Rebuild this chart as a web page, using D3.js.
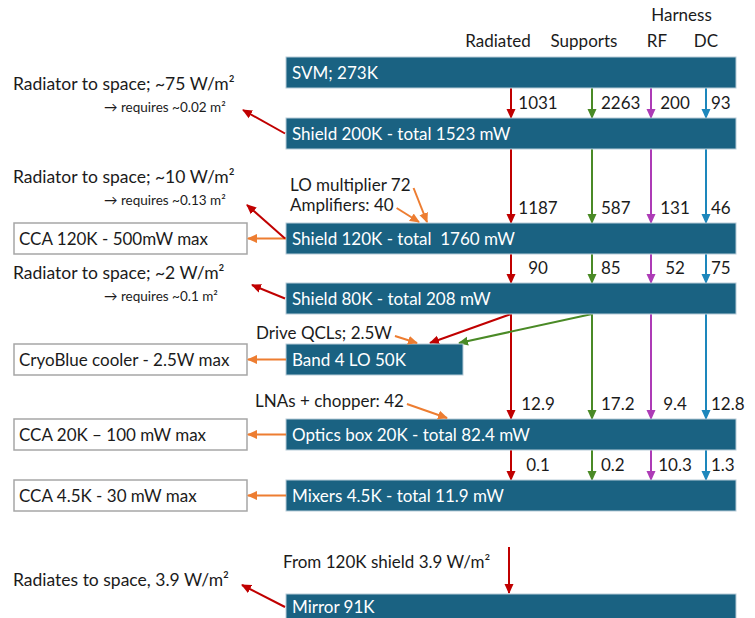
<!DOCTYPE html>
<html>
<head>
<meta charset="utf-8">
<script src="https://cdn.jsdelivr.net/npm/d3@7/dist/d3.min.js"></script>
<style>
body { margin: 0; background: #fff; }
svg { display: block; }
text { font-family: Lato, 'Open Sans', sans-serif; fill: #1b1b1b; }
</style>
</head>
<body>
<svg width="755" height="618"></svg>
<script>

// stages of the thermal stack, top to bottom
var stages = ["SVM; 273K", "Shield 200K - total 1523 mW", "Shield 120K - total  1760 mW", "Shield 80K - total 208 mW",
  "Band 4 LO 50K", "Optics box 20K - total 82.4 mW", "Mixers 4.5K - total 11.9 mW", "Mirror 91K"];
var paths = ["Radiated", "Supports", "RF", "DC"];

// heat flow (mW) going down from stage flowFrom[i] to stage flowTo[i]
var flowFrom = [0, 1, 2, 3, 5];
var flowTo = [1, 2, 3, 5, 6];
var radiated = [1031, 1187, 90, 12.9, 0.1];
var supports = [2263, 587, 85, 17.2, 0.2];
var harnessRF = [200, 131, 52, 9.4, 10.3];
var harnessDC = [93, 46, 75, 12.8, 1.3];

var coolers = ["CCA 120K - 500mW max", "CryoBlue cooler - 2.5W max", "CCA 20K \u2013 100 mW max", "CCA 4.5K - 30 mW max"];
var coolerStage = [2, 4, 5, 6];

var radiators = ["Radiator to space; ~75 W/m\u00b2", "Radiator to space; ~10 W/m\u00b2", "Radiator to space; ~2 W/m\u00b2", "Radiates to space, 3.9 W/m\u00b2"];
var radiatorArea = ["\u2192 requires ~0.02 m\u00b2", "\u2192 requires ~0.13 m\u00b2", "\u2192 requires ~0.1 m\u00b2", ""];
var radiatorStage = [1, 2, 3, 7];

var loads = ["LO multiplier 72", "Amplifiers: 40", "Drive QCLs; 2.5W", "LNAs + chopper: 42"];
var loadStage = [2, 2, 4, 5];

var mirrorNote = "From 120K shield 3.9 W/m\u00b2";

// ---- layout ----
var svg = d3.select("svg");
var barH = 31, barX = 286, fs = 17;

var y = d3.scaleOrdinal().domain(stages).range([57, 118, 223, 283, 344, 419, 480, 594]);
var barRight = d3.scaleOrdinal().domain(stages).range([736, 736, 736, 736, 463, 736, 736, 736]);
var x = d3.scaleOrdinal().domain(paths).range([511, 592, 651, 706]);
var color = d3.scaleOrdinal().domain(paths).range(["#c00000", "#4a8a26", "#ad3bb6", "#1d87bc"]);
var orange = "#ed7d31";
var series = { Radiated: radiated, Supports: supports, RF: harnessRF, DC: harnessDC };
// label placement next to each arrow column
var labelDx = d3.scaleOrdinal().domain(paths).range([27, 9, 24, 5]);
var labelAnchor = d3.scaleOrdinal().domain(paths).range(["middle", "start", "middle", "start"]);
var headerDx = d3.scaleOrdinal().domain(paths).range([-13, -8, 6, 0]);

// last bar runs off the bottom of the page
var hOf = function (s) { return Math.min(barH, 620 - y(s)); };
var mid = function (i) { return y(stages[i]) + hOf(stages[i]) / 2; };

// arrow heads
var defs = svg.append("defs");
function marker(id, c) {
  defs.append("marker").attr("id", id)
    .attr("markerUnits", "userSpaceOnUse")
    .attr("viewBox", "0 0 10 10")
    .attr("markerWidth", 10).attr("markerHeight", 10)
    .attr("refX", 9).attr("refY", 5).attr("orient", "auto")
    .append("path").attr("d", "M0,0.5 L10,5 L0,9.5 Z").attr("fill", c);
}
paths.forEach(function (p) { marker("m-" + p, color(p)); });
marker("m-orange", orange);

// column headers
svg.append("g").selectAll("text").data(paths).enter().append("text")
  .attr("x", function (p) { return x(p) + headerDx(p); })
  .attr("y", 47).attr("text-anchor", "middle").attr("font-size", fs)
  .text(function (p) { return p; });
svg.append("text").attr("x", (x("RF") + x("DC")) / 2 + 3).attr("y", 21)
  .attr("text-anchor", "middle").attr("font-size", fs).text("Harness");

// vertical flow arrows + values
var flows = [];
flowFrom.forEach(function (f, i) {
  paths.forEach(function (p) {
    flows.push({ from: f, to: flowTo[i], path: p, value: series[p][i] });
  });
});

var fg = svg.append("g");
fg.selectAll("line").data(flows).enter().append("line")
  .attr("x1", function (d) { return x(d.path); })
  .attr("x2", function (d) { return x(d.path); })
  .attr("y1", function (d) { return y(stages[d.from]) + barH; })
  .attr("y2", function (d) { return y(stages[d.to]); })
  .attr("stroke", function (d) { return color(d.path); })
  .attr("stroke-width", 2)
  .attr("marker-end", function (d) { return "url(#m-" + d.path + ")"; });

fg.selectAll("text").data(flows).enter().append("text")
  .attr("x", function (d) { return x(d.path) + labelDx(d.path); })
  .attr("y", function (d) { return y(stages[d.to]) - 15; })
  .attr("dy", "0.36em")
  .attr("text-anchor", function (d) { return labelAnchor(d.path); })
  .attr("font-size", fs)
  .text(function (d) { return d.value; });

// from Shield 80K into Band 4 LO
var lo = stages[4], s80 = stages[3];
[["Radiated", 430], ["Supports", 459]].forEach(function (d) {
  svg.append("line")
    .attr("x1", x(d[0])).attr("y1", y(s80) + barH)
    .attr("x2", d[1]).attr("y2", y(lo) - 1)
    .attr("stroke", color(d[0])).attr("stroke-width", 2)
    .attr("marker-end", "url(#m-" + d[0] + ")");
});

// mirror gets radiation from the 120K shield
svg.append("text").attr("x", 283).attr("y", 562).attr("dy", "0.36em")
  .attr("font-size", fs).text(mirrorNote);
svg.append("line").attr("x1", x("Radiated") - 2).attr("x2", x("Radiated") - 2)
  .attr("y1", 547).attr("y2", y(stages[7]) - 1)
  .attr("stroke", color("Radiated")).attr("stroke-width", 2)
  .attr("marker-end", "url(#m-Radiated)");

// stage bars
var bars = svg.append("g").selectAll("g").data(stages).enter().append("g");
bars.append("rect")
  .attr("x", barX).attr("y", function (s) { return y(s); })
  .attr("width", function (s) { return barRight(s) - barX; })
  .attr("height", hOf)
  .attr("fill", "#1a6282").attr("stroke", "#b7ccd8").attr("stroke-width", 1);
bars.append("text")
  .attr("x", barX + 6).attr("y", function (s, i) { return mid(i); })
  .attr("dy", "0.36em").attr("font-size", fs)
  .style("fill", "#fff").style("white-space", "pre")
  .text(function (s) { return s; });

// external coolers (white boxes) with orange arrows
var cg = svg.append("g").selectAll("g").data(coolers).enter().append("g");
cg.append("rect")
  .attr("x", 14).attr("y", function (c, i) { return y(stages[coolerStage[i]]); })
  .attr("width", 233).attr("height", barH)
  .attr("fill", "#fff").attr("stroke", "#a6a6a6").attr("stroke-width", 1.5);
cg.append("text")
  .attr("x", 19).attr("y", function (c, i) { return mid(coolerStage[i]); })
  .attr("dy", "0.36em").attr("font-size", fs)
  .text(function (c) { return c; });
cg.append("line")
  .attr("x1", barX).attr("x2", 248)
  .attr("y1", function (c, i) { return mid(coolerStage[i]); })
  .attr("y2", function (c, i) { return mid(coolerStage[i]); })
  .attr("stroke", orange).attr("stroke-width", 2)
  .attr("marker-end", "url(#m-orange)");

// radiators to space
var radText = [84, 177, 273, 580];
var radTip = [[243, 110], [247, 205], [252, 285], [242, 585]];
var rg = svg.append("g").selectAll("g").data(radiators).enter().append("g");
rg.append("text").attr("x", 13).attr("y", function (r, i) { return radText[i]; })
  .attr("dy", "0.36em").attr("font-size", 17.5).text(function (r) { return r; });
rg.append("text").attr("x", 104).attr("y", function (r, i) { return radText[i] + 23; })
  .attr("dy", "0.36em").attr("font-size", 13.5).text(function (r, i) { return radiatorArea[i]; });
rg.append("line")
  .attr("x1", barX - 1).attr("y1", function (r, i) { return mid(radiatorStage[i]); })
  .attr("x2", function (r, i) { return radTip[i][0]; })
  .attr("y2", function (r, i) { return radTip[i][1]; })
  .attr("stroke", color("Radiated")).attr("stroke-width", 2)
  .attr("marker-end", "url(#m-Radiated)");

// internal dissipation on the stages
var loadText = [[290, 185], [290, 205], [256, 333], [255, 401]];
var loadTip = [427, 419, 417, 447];
var lg = svg.append("g").selectAll("g").data(loads).enter().append("g");
lg.append("text")
  .attr("x", function (l, i) { return loadText[i][0]; })
  .attr("y", function (l, i) { return loadText[i][1]; })
  .attr("dy", "0.36em").attr("font-size", fs)
  .text(function (l) { return l; });
lg.each(function (l, i) {
  var w = d3.select(this).select("text").node().getComputedTextLength();
  d3.select(this).append("line")
    .attr("x1", loadText[i][0] + w + 3).attr("y1", loadText[i][1] + 3)
    .attr("x2", loadTip[i]).attr("y2", y(stages[loadStage[i]]) - 1)
    .attr("stroke", orange).attr("stroke-width", 2)
    .attr("marker-end", "url(#m-orange)");
});

</script>
</body>
</html>
